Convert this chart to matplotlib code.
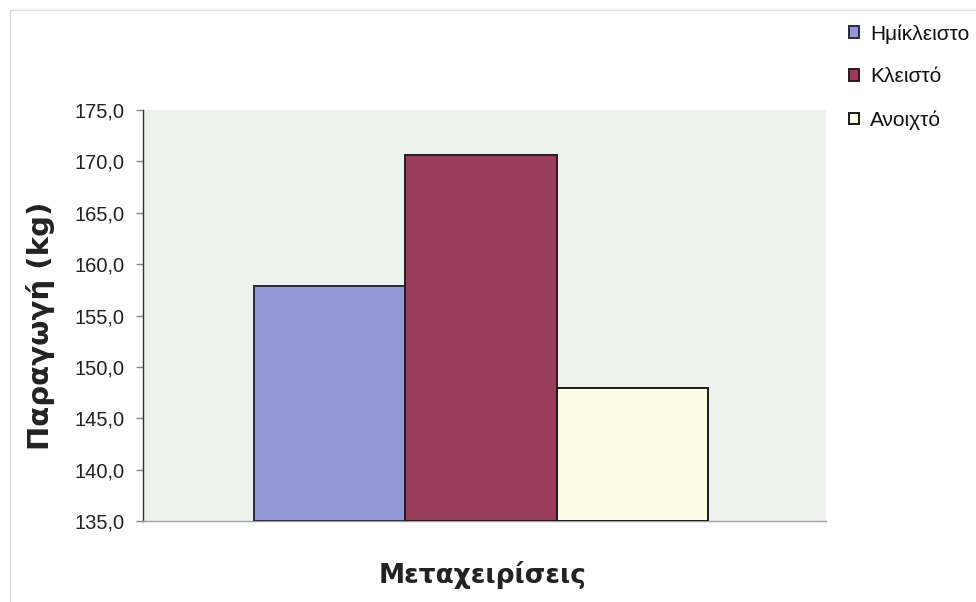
import matplotlib.pyplot as plt
from matplotlib.patches import Rectangle
from matplotlib.ticker import FuncFormatter

plt.rcParams['font.family'] = ['Liberation Sans', 'DejaVu Sans']

series = ['Ημίκλειστο', 'Κλειστό', 'Ανοιχτό']
values = [157.9, 170.6, 147.9]
colors = ['#9397d3', '#9a3d5c', '#fdfde6']
edge_colors = ['#2a2a3a', '#2a1a20', '#1a1a1a']


def main() -> int:
    fig = plt.figure(figsize=(9.76, 6.02), dpi=100)
    fig.patch.set_facecolor('white')
    # faint outer frame of the scanned chart
    fig.add_artist(Rectangle((10 / 976, -0.01), 1.0, 1 - 10 / 602 + 0.01,
                             transform=fig.transFigure, fill=False,
                             edgecolor='#dcdcdc', lw=1.0))

    ax = fig.add_axes([143 / 976, 1 - 521 / 602, (826 - 143) / 976, (521 - 110) / 602])
    ax.set_facecolor('#eef1ee')

    w = 0.2
    for i, (name, v) in enumerate(zip(series, values)):
        ax.bar((i - 1) * w, v - 135, w, bottom=135, color=colors[i],
               edgecolor=edge_colors[i], linewidth=1.4, label=name, zorder=3)

    ax.set_xlim(-2.234 * w, 2.28 * w)
    ax.set_ylim(135, 175)
    ax.set_yticks(range(135, 176, 5))
    ax.yaxis.set_major_formatter(FuncFormatter(lambda y, _: f'{y:.1f}'.replace('.', ',')))
    ax.tick_params(axis='y', labelsize=14.5, length=5, width=1, color='#888888',
                   labelcolor='#222222', pad=8)
    ax.set_xticks([])

    for s in ['top', 'right']:
        ax.spines[s].set_visible(False)
    ax.spines['left'].set_color('#333333')
    ax.spines['left'].set_linewidth(1.0)
    ax.spines['bottom'].set_color('#a0a0a0')
    ax.spines['bottom'].set_linewidth(1.0)

    fig.text(41 / 976, 1 - 326 / 602, 'Παραγωγή (kg)', rotation=90, fontsize=21,
             fontweight='bold', family='DejaVu Sans', ha='center', va='center',
             color='#222222')
    fig.text(483 / 976, 1 - 575 / 602, 'Μεταχειρίσεις', fontsize=19,
             fontweight='bold', family='DejaVu Sans', ha='center', va='center',
             color='#222222')

    leg = fig.legend(loc='upper left', bbox_to_anchor=(849 / 976, 1 - 24 / 602),
                     frameon=False, fontsize=15, handlelength=0.5, handleheight=0.5,
                     handletextpad=0.5, labelspacing=1.15, borderpad=0,
                     borderaxespad=0)
    for t in leg.get_texts():
        t.set_color('#111111')

    fig.savefig('out.png', dpi=100)
    return 0


if __name__ == '__main__':
    main()
